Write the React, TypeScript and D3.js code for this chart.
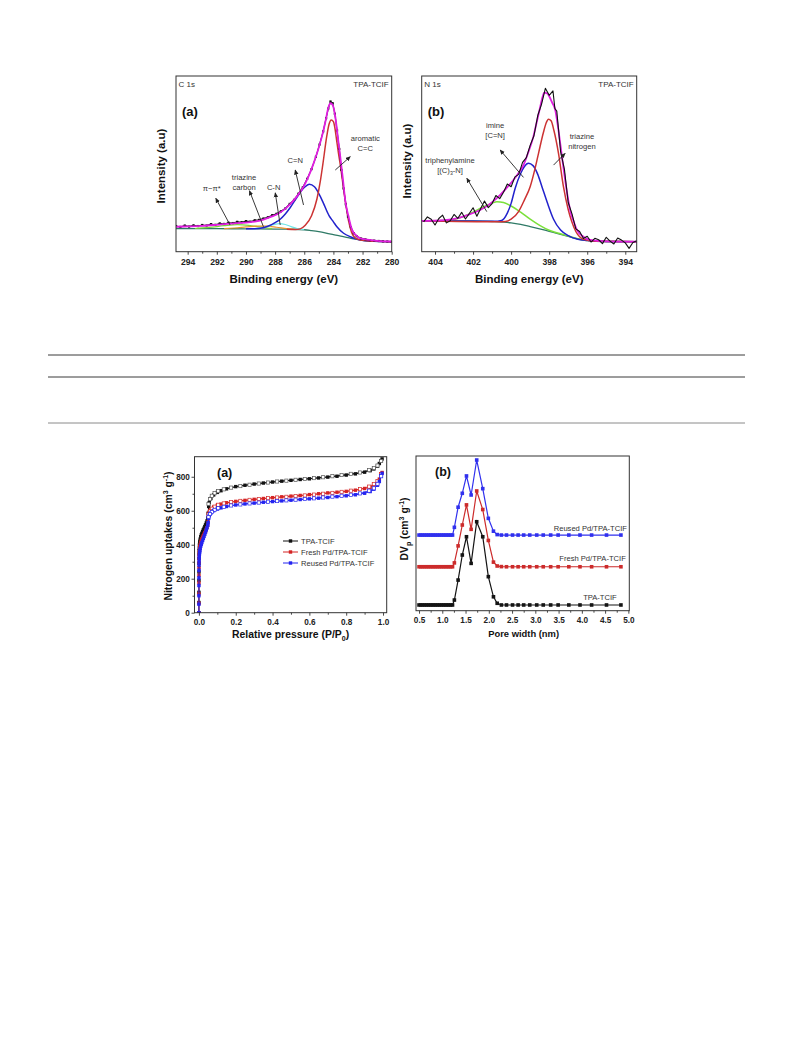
import React, { useLayoutEffect, useRef } from 'react';
import * as d3 from 'd3';

type Pt = [number, number];

const FONT = '"Liberation Sans", Arial, sans-serif';

// ---------- (a) XPS C 1s, [binding energy, intensity a.u.] ----------
const c1sBackground: Pt[] = [
  [294.8, 13.2], [292, 13.1], [290, 13.0], [288, 12.9], [287, 12.8], [286, 12.5], [285.5, 12.0],
  [285, 11.4], [284.5, 10.6], [284, 9.7], [283.5, 8.8], [283, 8.0], [282.5, 7.1], [282, 6.5],
  [281.5, 6.1], [281, 5.9], [280, 5.7],
];
const c1sPiPi: Pt[] = [
  [293.5, 13.2], [292.5, 13.8], [291.5, 14.8], [290.6, 15.4], [289.8, 15.0], [289, 14.0], [288.2, 13.1],
];
const c1sTriazineC: Pt[] = [
  [291.5, 13.1], [290.8, 13.5], [290, 14.1], [289.3, 14.6], [288.6, 14.5], [287.9, 13.9], [287.2, 13.2], [286.5, 12.7],
];
const c1sCN: Pt[] = [
  [289.5, 13.0], [289, 13.4], [288.5, 14.4], [288.1, 15.4], [287.7, 16.0], [287.3, 15.5], [286.9, 14.3],
  [286.5, 13.2], [286, 12.5],
];
const c1sCdN: Pt[] = [
  [290, 13.0], [289.5, 13.1], [289, 13.4], [288.5, 14.5], [288, 16.5], [287.65, 18.5], [287.3, 21.5],
  [286.97, 25], [286.5, 31], [286, 36.5], [285.66, 38.4], [285.3, 37], [284.9, 31.5], [284.68, 27.5],
  [284.3, 20.5], [284, 17], [283.76, 14.2], [283.3, 10.5], [282.84, 8.5], [282.3, 7], [281.5, 6.1], [280, 5.7],
];
const c1sAromatic: Pt[] = [
  [287.2, 12.8], [286.6, 12.7], [286.28, 13.0], [285.93, 15.0], [285.5, 20.5], [285.13, 30], [284.9, 40],
  [284.72, 50], [284.45, 66], [284.3, 72.5], [284.15, 75.0], [284.0, 74], [283.9, 70.5], [283.78, 63.5],
  [283.65, 56], [283.5, 48], [283.34, 38], [283.15, 27], [282.96, 17.5], [282.75, 11], [282.5, 7.8],
  [282.2, 6.8], [282, 6.5], [281.5, 6.1], [281, 5.9], [280, 5.7],
];
const c1sEnvelope: Pt[] = [
  [294.8, 14.2], [294, 14.4], [293, 14.7], [292, 15.3], [291, 16.0], [290, 16.6], [289.4, 17.1],
  [288.8, 18.3], [288.3, 19.8], [287.8, 21.6], [287.4, 23.8], [287, 26.8], [286.5, 31.5], [286.05, 37],
  [285.7, 43], [285.36, 50.3], [285.05, 58], [284.79, 65.5], [284.55, 74], [284.33, 82.5], [284.2, 84.5],
  [284.05, 83.5], [283.87, 76.8], [283.7, 65.5], [283.53, 54.1], [283.35, 41.5], [283.19, 29.4],
  [282.95, 19.5], [282.72, 12.4], [282.45, 9.4], [282.15, 7.6], [281.47, 6.7], [281, 6.2], [280, 5.8],
];
const c1sRaw: Pt[] = [
  [294.8, 14.6], [294.5, 14.1], [294.2, 14.9], [293.9, 14.3], [293.6, 15.0], [293.3, 14.6], [293.0, 15.2],
  [292.7, 14.9], [292.4, 15.7], [292.1, 15.3], [291.8, 16.1], [291.5, 15.8], [291.2, 16.5], [290.9, 16.3],
  [290.6, 17.0], [290.3, 16.8], [290.0, 17.4], [289.7, 17.1], [289.4, 17.9], [289.1, 18.1], [288.8, 18.9],
  [288.5, 19.6], [288.2, 20.8], [287.9, 21.6], [287.6, 23.0], [287.3, 24.6], [287.0, 27.2], [286.7, 29.5],
  [286.4, 33.0], [286.1, 36.6], [285.8, 41.5], [285.5, 47.0], [285.2, 54.0], [284.95, 61.0], [284.7, 68.5],
  [284.5, 76.0], [284.35, 81.5], [284.2, 85.5], [284.05, 84.5], [283.9, 78.5], [283.75, 69.0], [283.6, 58.5],
  [283.45, 46.5], [283.3, 36.0], [283.15, 27.0], [283.0, 20.0], [282.8, 14.0], [282.6, 10.5], [282.4, 8.8],
  [282.1, 7.5], [281.8, 7.0], [281.5, 6.6], [281.2, 6.3], [280.9, 6.1], [280.6, 5.9], [280.3, 5.8], [280.0, 5.7],
];
const c1sTicks = [294, 292, 290, 288, 286, 284, 282, 280];
const c1sMinor = [293, 291, 289, 287, 285, 283, 281];

// ---------- (b) XPS N 1s ----------
const n1sBackground: Pt[] = [
  [404.7, 17.6], [402, 17.5], [401, 17.2], [400, 16.4], [399.5, 15.5], [399, 14.3], [398.5, 13],
  [398, 11.6], [397.5, 10.2], [397, 8.7], [396.5, 7.3], [396, 6.4], [395.5, 6.0], [395, 5.8], [393.4, 5.7],
];
const n1sAmine: Pt[] = [
  [404.7, 17.6], [403.5, 17.7], [403, 18.3], [402.5, 20], [402, 22.5], [401.5, 25.3], [401, 27.6],
  [400.75, 28.5], [400.4, 28], [400, 26], [399.5, 22.5], [399, 18.5], [398.5, 15], [398, 12.2],
  [397.5, 10.5], [397, 8.9], [396.5, 7.4], [396, 6.4], [395, 5.8], [393.4, 5.7],
];
const n1sImine: Pt[] = [
  [404.7, 17.6], [401.5, 17.4], [400.9, 17.3], [400.5, 17.8], [400.2, 22], [400, 27.5], [399.79, 36],
  [399.5, 44.5], [399.3, 48.5], [399.09, 50.3], [398.85, 49], [398.6, 44], [398.38, 37], [398.1, 28],
  [397.77, 18.5], [397.4, 12.3], [397, 9.2], [396.54, 7.2], [396, 6.4], [395, 5.8], [393.4, 5.7],
];
const n1sTriazineN: Pt[] = [
  [404.7, 17.6], [400.6, 17.0], [400.3, 17.2], [400, 18.5], [399.6, 23], [399.3, 29.5], [399.0, 37],
  [398.75, 47], [398.56, 56], [398.3, 68], [398.15, 73.5], [398.04, 75.4], [397.9, 74.5], [397.75, 69],
  [397.51, 56], [397.25, 37], [397.0, 24], [396.81, 17], [396.6, 11.5], [396.4, 8.5], [396.2, 7.0],
  [395.5, 5.9], [393.4, 5.7],
];
const n1sEnvelope: Pt[] = [
  [404.7, 17.6], [404, 17.7], [403.5, 18.0], [402.86, 19], [402.3, 20.8], [401.63, 23.7], [401.2, 26.5],
  [400.75, 30.5], [400.3, 35.5], [399.88, 40.8], [399.6, 45], [399.35, 49.3], [399.1, 56.5], [398.83, 65.5],
  [398.65, 74], [398.47, 82.5], [398.35, 88], [398.26, 90.5], [398.1, 90], [398.0, 88.5], [397.85, 85],
  [397.68, 80.6], [397.55, 72], [397.42, 61.7], [397.29, 51], [397.16, 40.8], [397.03, 31.5], [396.9, 23.7],
  [396.72, 17.5], [396.54, 12.4], [396.2, 8.5], [395.84, 6.7], [395, 5.9], [393.4, 5.7],
];
const n1sRaw: Pt[] = [
  [404.6, 17.0], [404.4, 19.8], [404.2, 18.5], [404.0, 15.2], [403.8, 18.9], [403.6, 20.8], [403.4, 16.4],
  [403.2, 17.6], [403.0, 21.2], [402.8, 19.0], [402.6, 22.4], [402.4, 18.6], [402.2, 21.7], [402.0, 25.0],
  [401.8, 20.2], [401.6, 24.6], [401.4, 28.8], [401.2, 25.1], [401.0, 27.4], [400.8, 32.0], [400.6, 30.2],
  [400.4, 33.8], [400.2, 38.5], [400.0, 37.0], [399.8, 42.6], [399.6, 44.0], [399.4, 50.8], [399.2, 53.5],
  [399.0, 60.5], [398.8, 66.0], [398.6, 77.5], [398.4, 84.0], [398.2, 93.0], [398.0, 89.0], [397.8, 91.5],
  [397.7, 81.5], [397.6, 80.0], [397.4, 57.0], [397.2, 47.0], [397.0, 28.0], [396.8, 21.5], [396.6, 13.0],
  [396.4, 11.5], [396.2, 7.5], [396.0, 8.8], [395.8, 5.5], [395.6, 7.6], [395.4, 6.8], [395.2, 4.6],
  [395.0, 8.2], [394.8, 6.0], [394.6, 4.4], [394.4, 7.8], [394.2, 6.6], [394.0, 5.0], [393.8, 1.9],
  [393.6, 5.2], [393.4, 6.2],
];
const n1sTicks = [404, 402, 400, 398, 396, 394];
const n1sMinor = [403, 401, 399, 397, 395];

// ---------- (c) N2 isotherms ----------
const isoSeries = ['TPA-TCIF', 'Fresh Pd/TPA-TCIF', 'Reused Pd/TPA-TCIF'];
const adsP = [
  0, 0.00005, 0.0001, 0.0002, 0.0003, 0.0005, 0.0007, 0.001, 0.0015, 0.002, 0.003, 0.004, 0.005, 0.007,
  0.01, 0.013, 0.016, 0.02, 0.024, 0.028, 0.032, 0.036, 0.04, 0.044, 0.048, 0.05, 0.053, 0.056, 0.065,
  0.08, 0.1, 0.12, 0.15, 0.2, 0.25, 0.3, 0.35, 0.4, 0.45, 0.5, 0.55, 0.6, 0.65, 0.7, 0.75, 0.8, 0.85,
  0.9, 0.93, 0.95, 0.97, 0.98, 0.99, 0.995,
];
const adsTpa = [
  0, 60, 120, 190, 240, 290, 320, 345, 365, 380, 398, 410, 420, 433, 447, 458, 467, 478, 488, 497, 507,
  517, 528, 540, 558, 585, 625, 648, 672, 693, 708, 718, 729, 742, 750, 757, 763, 769, 774, 779, 784,
  788, 793, 798, 803, 810, 817, 827, 836, 846, 862, 878, 895, 905,
];
const adsFresh = [
  0, 55, 110, 175, 220, 265, 295, 318, 338, 352, 368, 380, 390, 402, 415, 425, 434, 444, 453, 462, 471,
  480, 490, 501, 515, 535, 570, 592, 607, 622, 632, 639, 647, 655, 661, 667, 672, 677, 682, 686, 690,
  695, 700, 705, 709, 714, 721, 731, 738, 752, 768, 786, 812, 825,
];
const adsReused = [
  0, 50, 100, 160, 205, 250, 280, 300, 318, 331, 346, 357, 366, 378, 392, 403, 413, 425, 437, 449, 461,
  474, 487, 500, 515, 530, 555, 572, 586, 600, 610, 617, 625, 634, 640, 645, 650, 654, 658, 662, 666,
  670, 674, 678, 683, 688, 694, 703, 713, 727, 750, 772, 805, 820,
];
const desP = [
  0.99, 0.97, 0.95, 0.925, 0.875, 0.825, 0.775, 0.725, 0.675, 0.625, 0.575, 0.525, 0.475, 0.425, 0.375,
  0.325, 0.275, 0.225, 0.175, 0.135, 0.105, 0.085, 0.07, 0.06, 0.052,
];
const desTpa = [893, 866, 851, 839, 825, 817, 810, 803, 797, 792, 787, 782, 777, 772, 766, 760, 753, 745, 736, 726, 715, 703, 688, 668, 640];
const desFresh = [816, 775, 757, 742, 727, 718, 711, 705, 700, 695, 690, 686, 682, 678, 674, 669, 664, 658, 651, 643, 635, 624, 612, 598, 578];
const desReused = [803, 758, 732, 718, 702, 694, 688, 683, 678, 673, 669, 665, 661, 657, 653, 648, 643, 637, 631, 623, 615, 605, 593, 580, 563];

// ---------- (d) pore size distribution (offset curves) ----------
const poreW = [
  0.5, 0.54, 0.58, 0.62, 0.66, 0.7, 0.74, 0.78, 0.82, 0.86, 0.9, 0.94, 0.98, 1.02, 1.06, 1.1, 1.14, 1.18,
  1.22, 1.26, 1.34, 1.43, 1.52, 1.62, 1.74, 1.87, 1.99, 2.1, 2.18, 2.27, 2.38, 2.51, 2.63, 2.75, 2.88,
  3.03, 3.17, 3.33, 3.49, 3.72, 3.96, 4.21, 4.53, 4.84,
];
const psdTpa = [
  3.7, 3.7, 3.7, 3.7, 3.7, 3.7, 3.7, 3.7, 3.7, 3.7, 3.7, 3.7, 3.7, 3.7, 3.7, 3.7, 3.7, 3.7, 3.7,
  6.9, 19.8, 36.0, 47.8, 30.6, 57.5, 47.8, 22.0, 9.0, 4.8, 3.7,
  3.7, 3.7, 3.7, 3.7, 3.7, 3.7, 3.7, 3.7, 3.7, 3.7, 3.7, 3.7, 3.7, 3.7,
];
const psdFresh = [
  28.4, 28.4, 28.4, 28.4, 28.4, 28.4, 28.4, 28.4, 28.4, 28.4, 28.4, 28.4, 28.4, 28.4, 28.4, 28.4, 28.4, 28.4, 28.4,
  30.9, 41.9, 55.4, 68.4, 52.6, 77.4, 65.4, 45.4, 31.4, 28.9, 28.5,
  28.4, 28.4, 28.4, 28.4, 28.4, 28.4, 28.4, 28.4, 28.4, 28.4, 28.4, 28.4, 28.4, 28.4,
];
const psdReused = [
  48.9, 48.9, 48.9, 48.9, 48.9, 48.9, 48.9, 48.9, 48.9, 48.9, 48.9, 48.9, 48.9, 48.9, 48.9, 48.9, 48.9, 48.9, 48.9,
  53.9, 66.9, 75.9, 87.1, 74.8, 97.4, 78.9, 59.7, 51.4, 49.2, 48.9,
  48.9, 48.9, 48.9, 48.9, 48.9, 48.9, 48.9, 48.9, 48.9, 48.9, 48.9, 48.9, 48.9, 48.9,
];

type Sel = d3.Selection<any, any, any, any>;

const styleAxis = (g: Sel, fs: number) => {
  g.select('.domain').remove();
  g.selectAll('line').attr('stroke', '#333').attr('stroke-width', 0.9);
  g.selectAll('text')
    .attr('font-family', FONT)
    .attr('font-weight', 'bold')
    .attr('font-size', fs)
    .attr('fill', '#222');
};

// text with sup/sub parts
const rich = (t: Sel, parts: [string, string][], fs: number) => {
  let shift = 0;
  parts.forEach(([s, k]) => {
    const target = k === 'sup' ? -fs * 0.38 : k === 'sub' ? fs * 0.28 : 0;
    t.append('tspan')
      .attr('dy', target - shift)
      .attr('font-size', k ? fs * 0.68 : fs)
      .text(s);
    shift = target;
  });
};

const txt = (g: Sel, x: number, y: number, s: string, fs: number, anchor = 'start', bold = false) =>
  g
    .append('text')
    .attr('x', x)
    .attr('y', y)
    .attr('font-family', FONT)
    .attr('font-size', fs)
    .attr('font-weight', bold ? 'bold' : 'normal')
    .attr('fill', bold ? '#111' : '#333')
    .attr('text-anchor', anchor)
    .text(s);

const frameBox = (g: Sel, f: { left: number; right: number; top: number; bottom: number }) =>
  g
    .append('rect')
    .attr('x', f.left)
    .attr('y', f.top)
    .attr('width', f.right - f.left)
    .attr('height', f.bottom - f.top)
    .attr('fill', 'none')
    .attr('stroke', '#333')
    .attr('stroke-width', 1);

type Curve = { data: Pt[]; color: string; width: number; smooth: boolean; marks?: boolean };
type Note = { lines: string[]; at: Pt };
type Arrow = [Pt, Pt];

const drawXps = (
  svg: Sel,
  id: string,
  f: { left: number; right: number; top: number; bottom: number },
  xDomain: [number, number],
  ticks: number[],
  minor: number[],
  curves: Curve[],
  notes: Note[],
  arrows: Arrow[],
  tag: string,
  core: string,
  yLabelY: number,
) => {
  const x = d3.scaleLinear().domain(xDomain).range([f.left, f.right]);
  const y = d3.scaleLinear().domain([0, 100]).range([f.bottom, f.top]);
  svg
    .append('clipPath')
    .attr('id', id)
    .append('rect')
    .attr('x', f.left)
    .attr('y', f.top)
    .attr('width', f.right - f.left)
    .attr('height', f.bottom - f.top);
  const plot = svg.append('g').attr('clip-path', `url(#${id})`);
  curves.forEach((c) => {
    const line = d3
      .line<Pt>()
      .x((d) => x(d[0]))
      .y((d) => y(d[1]))
      .curve(c.smooth ? d3.curveMonotoneX : d3.curveLinear);
    plot
      .append('path')
      .attr('d', line(c.data))
      .attr('fill', 'none')
      .attr('stroke', c.color)
      .attr('stroke-width', c.width)
      .attr('stroke-linejoin', 'round');
    if (c.marks) {
      plot
        .selectAll(null)
        .data(c.data)
        .join('rect')
        .attr('x', (d: Pt) => x(d[0]) - 1.1)
        .attr('y', (d: Pt) => y(d[1]) - 1.1)
        .attr('width', 2.2)
        .attr('height', 2.2)
        .attr('fill', c.color);
    }
  });
  frameBox(svg, f);
  const ax = svg
    .append('g')
    .attr('transform', `translate(0,${f.bottom})`)
    .call(d3.axisBottom(x).tickValues(ticks).tickSize(3).tickPadding(4.6).tickFormat(d3.format('d')) as any);
  styleAxis(ax, 8.6);
  const mx = svg
    .append('g')
    .attr('transform', `translate(0,${f.bottom})`)
    .call(d3.axisBottom(x).tickValues(minor).tickSize(2).tickFormat(() => '') as any);
  styleAxis(mx, 8.6);

  const ann = svg.append('g');
  arrows.forEach(([a, b]) => {
    ann
      .append('line')
      .attr('x1', x(a[0]))
      .attr('y1', y(a[1]))
      .attr('x2', x(b[0]))
      .attr('y2', y(b[1]))
      .attr('stroke', '#222')
      .attr('stroke-width', 0.9)
      .attr('marker-end', 'url(#arrowhead)');
  });
  notes.forEach((n) => {
    n.lines.forEach((s, i) => {
      const t = txt(ann, x(n.at[0]), y(n.at[1]) + i * 10, '', 7.6, 'middle');
      if (s.includes('_3')) {
        const [a, b] = s.split('_3');
        rich(t, [[a, ''], ['3', 'sub'], [b, '']], 7.6);
      } else t.text(s);
    });
  });
  txt(svg, f.left + 2.5, f.top + 11, core, 8);
  txt(svg, f.right - 3, f.top + 11, 'TPA-TCIF', 8, 'end');
  txt(svg, f.left + 6, f.top + 40, tag, 13, 'start', true);
  txt(svg, (f.left + f.right) / 2, f.bottom + 31, 'Binding energy (eV)', 11.5, 'middle', true);
  svg
    .append('text')
    .attr('transform', `translate(${f.left - 11},${yLabelY}) rotate(-90)`)
    .attr('font-family', FONT)
    .attr('font-size', 11.5)
    .attr('font-weight', 'bold')
    .attr('fill', '#111')
    .attr('text-anchor', 'middle')
    .text('Intensity (a.u)');
};

const drawIsotherm = (svg: Sel) => {
  const f = { left: 194.5, right: 386.7, top: 456.7, bottom: 612.7 };
  const x = d3.scaleLinear().domain([-0.024, 1.02]).range([f.left, f.right]);
  const y = d3.scaleLinear().domain([0, 918]).range([f.bottom, f.top]);
  const colors = ['#111111', '#d42424', '#2424f0'];
  const ads = [adsTpa, adsFresh, adsReused];
  const des = [desTpa, desFresh, desReused];
  svg
    .append('clipPath')
    .attr('id', 'clip-iso')
    .append('rect')
    .attr('x', f.left)
    .attr('y', f.top)
    .attr('width', f.right - f.left)
    .attr('height', f.bottom - f.top);
  const plot = svg.append('g').attr('clip-path', 'url(#clip-iso)');
  const line = d3
    .line<Pt>()
    .x((d) => x(d[0]))
    .y((d) => y(d[1]));
  isoSeries.forEach((_, i) => {
    const a: Pt[] = adsP.map((p, j) => [p, ads[i][j]]);
    const d: Pt[] = desP.map((p, j) => [p, des[i][j]]);
    plot.append('path').attr('d', line(a)).attr('fill', 'none').attr('stroke', colors[i]).attr('stroke-width', 1);
    plot.append('path').attr('d', line(d)).attr('fill', 'none').attr('stroke', colors[i]).attr('stroke-width', 0.8);
    plot
      .selectAll(null)
      .data(a)
      .join('rect')
      .attr('x', (p: Pt) => x(p[0]) - 1.7)
      .attr('y', (p: Pt) => y(p[1]) - 1.7)
      .attr('width', 3.4)
      .attr('height', 3.4)
      .attr('fill', colors[i]);
    plot
      .selectAll(null)
      .data(d)
      .join('rect')
      .attr('x', (p: Pt) => x(p[0]) - 1.6)
      .attr('y', (p: Pt) => y(p[1]) - 1.6)
      .attr('width', 3.2)
      .attr('height', 3.2)
      .attr('fill', '#fff')
      .attr('stroke', i === 0 ? '#555' : colors[i])
      .attr('stroke-width', 0.7);
  });
  frameBox(svg, f);
  const fmt = d3.format('.1f');
  const ax = svg
    .append('g')
    .attr('transform', `translate(0,${f.bottom})`)
    .call(d3.axisBottom(x).tickValues([0, 0.2, 0.4, 0.6, 0.8, 1.0]).tickSize(3).tickPadding(3.4).tickFormat((v: any) => fmt(v)) as any);
  styleAxis(ax, 8.2);
  const mx = svg
    .append('g')
    .attr('transform', `translate(0,${f.bottom})`)
    .call(d3.axisBottom(x).tickValues([0.1, 0.3, 0.5, 0.7, 0.9]).tickSize(2).tickFormat(() => '') as any);
  styleAxis(mx, 8.2);
  const ay = svg
    .append('g')
    .attr('transform', `translate(${f.left},0)`)
    .call(d3.axisLeft(y).tickValues([0, 200, 400, 600, 800]).tickSize(3).tickPadding(1.6) as any);
  styleAxis(ay, 8.2);
  const my = svg
    .append('g')
    .attr('transform', `translate(${f.left},0)`)
    .call(d3.axisLeft(y).tickValues([100, 300, 500, 700]).tickSize(2).tickFormat(() => '') as any);
  styleAxis(my, 8.2);

  // legend
  isoSeries.forEach((s, i) => {
    const ly = 541 + i * 11;
    svg.append('line').attr('x1', 283).attr('x2', 298).attr('y1', ly).attr('y2', ly).attr('stroke', colors[i]).attr('stroke-width', 1);
    svg.append('rect').attr('x', 288.8).attr('y', ly - 1.7).attr('width', 3.4).attr('height', 3.4).attr('fill', colors[i]);
    txt(svg, 301, ly + 2.7, s, 7.6);
  });
  txt(svg, 217, 477, '(a)', 12.5, 'start', true);
  const xl = txt(svg, (f.left + f.right) / 2, 638, '', 10.4, 'middle', true);
  rich(xl, [['Relative pressure (P/P', ''], ['0', 'sub'], [')', '']], 10.4);
  const yl = svg
    .append('text')
    .attr('transform', `translate(172,536) rotate(-90)`)
    .attr('font-family', FONT)
    .attr('font-size', 10.4)
    .attr('font-weight', 'bold')
    .attr('fill', '#111')
    .attr('text-anchor', 'middle');
  rich(yl, [['Nitrogen uptakes (cm', ''], ['3', 'sup'], [' g', ''], ['-1', 'sup'], [')', '']], 10.4);
};

const drawPsd = (svg: Sel) => {
  const f = { left: 416, right: 629.3, top: 456, bottom: 610.7 };
  const x = d3.scaleLinear().domain([0.435, 5.02]).range([f.left, f.right]);
  const y = d3.scaleLinear().domain([0, 100]).range([f.bottom, f.top]);
  const colors = ['#141414', '#cc2b2b', '#3030ee'];
  const vals = [psdTpa, psdFresh, psdReused];
  const line = d3
    .line<Pt>()
    .x((d) => x(d[0]))
    .y((d) => y(d[1]));
  vals.forEach((v, i) => {
    const pts: Pt[] = poreW.map((w, j) => [w, v[j]]);
    svg.append('path').attr('d', line(pts)).attr('fill', 'none').attr('stroke', colors[i]).attr('stroke-width', 1.2);
    svg
      .selectAll(null)
      .data(pts)
      .join('rect')
      .attr('x', (p: Pt) => x(p[0]) - 1.8)
      .attr('y', (p: Pt) => y(p[1]) - 1.8)
      .attr('width', 3.6)
      .attr('height', 3.6)
      .attr('fill', colors[i]);
  });
  frameBox(svg, f);
  const fmt = d3.format('.1f');
  const ax = svg
    .append('g')
    .attr('transform', `translate(0,${f.bottom})`)
    .call(
      d3
        .axisBottom(x)
        .tickValues([0.5, 1.0, 1.5, 2.0, 2.5, 3.0, 3.5, 4.0, 4.5, 5.0])
        .tickSize(3)
        .tickPadding(3.6)
        .tickFormat((v: any) => fmt(v)) as any,
    );
  styleAxis(ax, 8.2);
  const mx = svg
    .append('g')
    .attr('transform', `translate(0,${f.bottom})`)
    .call(
      d3
        .axisBottom(x)
        .tickValues([0.75, 1.25, 1.75, 2.25, 2.75, 3.25, 3.75, 4.25, 4.75])
        .tickSize(2)
        .tickFormat(() => '') as any,
    );
  styleAxis(mx, 8.2);
  const notes: [string, number, number][] = [
    ['Reused Pd/TPA-TCIF', 4.97, 51.5],
    ['Fresh Pd/TPA-TCIF', 4.945, 32.1],
    ['TPA-TCIF', 4.75, 7.1],
  ];
  notes.forEach(([s, w, v]) => txt(svg, x(w), y(v), s, 7.6, 'end'));
  txt(svg, 435, 476, '(b)', 12.5, 'start', true);
  txt(svg, (f.left + f.right) / 2 + 1, 637, 'Pore width (nm)', 9.4, 'middle', true);
  const yl = svg
    .append('text')
    .attr('transform', `translate(408,529) rotate(-90)`)
    .attr('font-family', FONT)
    .attr('font-size', 10.4)
    .attr('font-weight', 'bold')
    .attr('fill', '#111')
    .attr('text-anchor', 'middle');
  rich(yl, [['DV', ''], ['p', 'sub'], [' (cm', ''], ['3', 'sup'], [' g', ''], ['-1', 'sup'], [')', '']], 10.4);
};

const drawPage = (el: SVGSVGElement) => {
  const svg = d3.select(el);
  svg.selectAll('*').remove();
  svg
    .append('defs')
    .append('marker')
    .attr('id', 'arrowhead')
    .attr('viewBox', '0 0 10 10')
    .attr('refX', 9)
    .attr('refY', 5)
    .attr('markerWidth', 5)
    .attr('markerHeight', 5)
    .attr('markerUnits', 'userSpaceOnUse')
    .attr('orient', 'auto')
    .append('path')
    .attr('d', 'M0,0.5 L10,5 L0,9.5 z')
    .attr('fill', '#222');

  // table rules between the figures
  [
    [355, '#3a3a3a'],
    [377, '#3a3a3a'],
    [423, '#8a8a8a'],
  ].forEach(([yy, c]) => {
    svg.append('line').attr('x1', 48).attr('x2', 745).attr('y1', yy).attr('y2', yy).attr('stroke', c).attr('stroke-width', 1);
  });

  drawXps(
    svg,
    'clip-c1s',
    { left: 176, right: 391.7, top: 76, bottom: 251.7 },
    [294.8, 280],
    c1sTicks,
    c1sMinor,
    [
      { data: c1sBackground, color: '#2f7a66', width: 1.3, smooth: true },
      { data: c1sPiPi, color: '#7ad83a', width: 1.2, smooth: true },
      { data: c1sTriazineC, color: '#e8952c', width: 1.2, smooth: true },
      { data: c1sCN, color: '#6fe6e6', width: 1.2, smooth: true },
      { data: c1sCdN, color: '#2222cc', width: 1.5, smooth: true },
      { data: c1sAromatic, color: '#cc3333', width: 1.5, smooth: true },
      { data: c1sRaw, color: '#111', width: 1.1, smooth: false, marks: true },
      { data: c1sEnvelope, color: '#e01ee0', width: 1.8, smooth: true },
    ],
    [
      { lines: ['\u03c0\u2212\u03c0*'], at: [292.35, 34.5] },
      { lines: ['triazine', 'carbon'], at: [290.13, 40.8] },
      { lines: ['C-N'], at: [288.1, 35.1] },
      { lines: ['C=N'], at: [286.62, 50.5] },
      { lines: ['aromatic', 'C=C'], at: [281.81, 63.0] },
    ],
    [
      [[291.09, 15.2], [292.07, 30.4]],
      [[288.8, 14.2], [289.76, 34.7]],
      [[287.65, 15.2], [287.99, 33.5]],
      [[286.05, 26.6], [286.62, 46.5]],
      [[283.87, 46.5], [282.84, 54.1]],
    ],
    '(a)',
    'C 1s',
    166,
  );

  drawXps(
    svg,
    'clip-n1s',
    { left: 421.7, right: 636.7, top: 76, bottom: 251.7 },
    [404.7, 393.4],
    n1sTicks,
    n1sMinor,
    [
      { data: n1sBackground, color: '#2f7a66', width: 1.3, smooth: true },
      { data: n1sAmine, color: '#7ae03a', width: 1.5, smooth: true },
      { data: n1sImine, color: '#2222cc', width: 1.5, smooth: true },
      { data: n1sTriazineN, color: '#cc3333', width: 1.5, smooth: true },
      { data: n1sEnvelope, color: '#e01ee0', width: 1.8, smooth: true },
      { data: n1sRaw, color: '#111', width: 1.1, smooth: false },
    ],
    [
      { lines: ['triphenylamine', '[(C)_3-N]'], at: [403.21, 50.5] },
      { lines: ['imine', '[C=N]'], at: [400.84, 70.4] },
      { lines: ['triazine', 'nitrogen'], at: [396.28, 64.1] },
    ],
    [
      [[401.28, 22.8], [402.33, 41.8]],
      [[399.35, 42.3], [400.58, 57.9]],
      [[397.77, 49.3], [397.16, 56]],
    ],
    '(b)',
    'N 1s',
    161,
  );

  drawIsotherm(svg);
  drawPsd(svg);
};

export default function App() {
  const ref = useRef<SVGSVGElement>(null);
  useLayoutEffect(() => {
    if (ref.current) drawPage(ref.current);
  }, []);
  return (
    <svg
      ref={ref}
      width={793}
      height={1057}
      style={{ position: 'absolute', left: 0, top: 0, background: '#fff' }}
    />
  );
}
